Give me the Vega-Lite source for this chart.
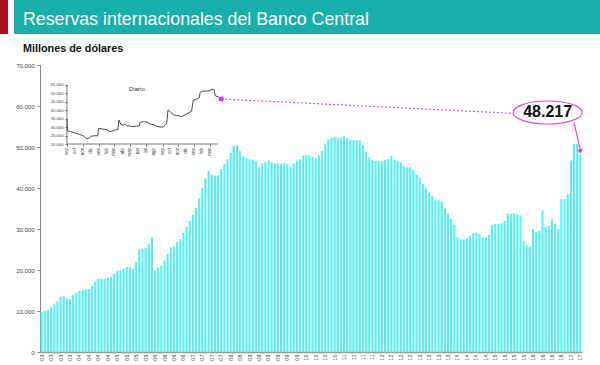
{
"$schema": "https://vega.github.io/schema/vega-lite/v6.json",
"padding": 0,
"background": "white",
"spacing": 9,
"config": {"font": "Liberation Sans", "view": {"stroke": null}, "axis": {"labelOverlap": false}},
"vconcat": [
{"hconcat": [
 {"width": 8, "height": 34, "view": {"fill": "#A50F1E", "stroke": null}, "data": {"values": [{}]}, "mark": "text", "encoding": {"text": {"value": ""}}},
 {"width": 586, "height": 34, "view": {"fill": "#1AAFAB", "stroke": null},
  "title": {"text": "Reservas internacionales del Banco Central", "anchor": "start", "frame": "group", "offset": -28.5, "dx": 9, "color": "white", "fontSize": 17.8, "fontWeight": "normal", "font": "Liberation Sans"},
  "data": {"values": [{}]}, "mark": "text", "encoding": {"text": {"value": ""}}}
], "spacing": 6},
{"width": 582, "height": 287,
 "title": {"text": "Millones de dólares", "anchor": "start", "frame": "group", "dx": 23, "offset": 8, "fontSize": 10.8, "fontWeight": "bold", "color": "#111", "font": "Liberation Sans"},
 "layer": [
  {"data": {"values": [
   {"d":"2015-09-01","v":34800},{"d":"2015-09-03","v":27800},{"d":"2015-09-15","v":27400},{"d":"2015-10-01","v":26600},{"d":"2015-10-15","v":25900},{"d":"2015-11-01","v":25000},{"d":"2015-11-17","v":23000},{"d":"2015-11-25","v":23600},{"d":"2015-12-04","v":24600},{"d":"2015-12-15","v":24900},{"d":"2015-12-28","v":24900},{"d":"2015-12-31","v":29300},{"d":"2016-01-15","v":28900},{"d":"2016-02-01","v":28500},{"d":"2016-02-12","v":27400},{"d":"2016-02-25","v":27800},{"d":"2016-03-09","v":28600},{"d":"2016-03-14","v":28300},{"d":"2016-03-18","v":34200},{"d":"2016-03-26","v":31500},{"d":"2016-04-05","v":31200},{"d":"2016-04-10","v":31900},{"d":"2016-04-16","v":30900},{"d":"2016-05-01","v":30600},{"d":"2016-05-12","v":30300},{"d":"2016-05-25","v":30700},{"d":"2016-06-04","v":30700},{"d":"2016-06-07","v":32900},{"d":"2016-06-20","v":33200},{"d":"2016-07-02","v":33000},{"d":"2016-07-15","v":31900},{"d":"2016-08-01","v":31300},{"d":"2016-08-10","v":30500},{"d":"2016-08-25","v":30000},{"d":"2016-09-04","v":30200},{"d":"2016-09-12","v":31400},{"d":"2016-09-17","v":31900},{"d":"2016-09-22","v":40200},{"d":"2016-10-01","v":39000},{"d":"2016-10-12","v":37400},{"d":"2016-10-25","v":36900},{"d":"2016-11-13","v":36300},{"d":"2016-11-26","v":37200},{"d":"2016-12-10","v":38500},{"d":"2016-12-21","v":39400},{"d":"2016-12-28","v":46100},{"d":"2017-01-10","v":46700},{"d":"2017-01-20","v":47500},{"d":"2017-01-23","v":50600},{"d":"2017-02-01","v":51400},{"d":"2017-02-15","v":51400},{"d":"2017-03-01","v":51600},{"d":"2017-03-10","v":52600},{"d":"2017-03-14","v":52000},{"d":"2017-03-17","v":52300},{"d":"2017-03-22","v":48600},{"d":"2017-04-03","v":48000},{"d":"2017-04-09","v":47300}
  ]},
  "layer": [
   {"mark": {"type": "line", "color": "#4a4a4a", "strokeWidth": 1},
    "encoding": {
     "x": {"field": "d", "type": "temporal",
      "scale": {"domain": [{"year":2015,"month":5,"date":21,"utc":true},{"year":2021,"month":1,"date":24,"utc":true}], "nice": false, "range": [40, 582]},
      "axis": {"orient": "bottom", "offset": -208, "title": null, "grid": false, "domain": false, "labels": false,
       "values": [{"year":2015,"month":9,"date":1,"utc":true},{"year":2015,"month":10,"date":1,"utc":true},{"year":2015,"month":11,"date":1,"utc":true},{"year":2015,"month":12,"date":1,"utc":true},{"year":2016,"month":1,"date":1,"utc":true},{"year":2016,"month":2,"date":1,"utc":true},{"year":2016,"month":3,"date":1,"utc":true},{"year":2016,"month":4,"date":1,"utc":true},{"year":2016,"month":5,"date":1,"utc":true},{"year":2016,"month":6,"date":1,"utc":true},{"year":2016,"month":7,"date":1,"utc":true},{"year":2016,"month":8,"date":1,"utc":true},{"year":2016,"month":9,"date":1,"utc":true},{"year":2016,"month":10,"date":1,"utc":true},{"year":2016,"month":11,"date":1,"utc":true},{"year":2016,"month":12,"date":1,"utc":true},{"year":2017,"month":1,"date":1,"utc":true},{"year":2017,"month":2,"date":1,"utc":true},{"year":2017,"month":3,"date":1,"utc":true}],
       "tickSize": 2, "tickColor": "#666"}},
     "y": {"field": "v", "type": "quantitative",
      "scale": {"domain": [-103386, 66864], "nice": false, "zero": false},
      "axis": {"orient": "left", "offset": -67, "title": null, "grid": false, "domain": false,
       "values": [20000,25000,30000,35000,40000,45000,50000,55000],
       "labelExpr": "replace(format(datum.value, ','), ',', '.')",
       "labelFontSize": 4.2, "labelColor": "#444", "labelPadding": 2, "tickSize": 2, "tickColor": "#666", "minExtent": 0, "labelOverlap": false, "labelBound": false, "labelFlush": false}}
    }},
   {"data": {"values": [
     {"d":"2015-09-01","mes":"sep"},{"d":"2015-10-01","mes":"oct"},{"d":"2015-11-01","mes":"nov"},{"d":"2015-12-01","mes":"dic"},{"d":"2016-01-01","mes":"ene"},{"d":"2016-02-01","mes":"feb"},{"d":"2016-03-01","mes":"mar"},{"d":"2016-04-01","mes":"abr"},{"d":"2016-05-01","mes":"may"},{"d":"2016-06-01","mes":"jun"},{"d":"2016-07-01","mes":"jul"},{"d":"2016-08-01","mes":"ago"},{"d":"2016-09-01","mes":"sep"},{"d":"2016-10-01","mes":"oct"},{"d":"2016-11-01","mes":"nov"},{"d":"2016-12-01","mes":"dic"},{"d":"2017-01-01","mes":"ene"},{"d":"2017-02-01","mes":"feb"},{"d":"2017-03-01","mes":"mar"}
    ]},
    "mark": {"type": "text", "fontSize": 4.5, "color": "#444", "angle": 270, "align": "right", "baseline": "middle", "yOffset": 4},
    "encoding": {"x": {"field": "d", "type": "temporal"}, "y": {"datum": 20000, "type": "quantitative"}, "text": {"field": "mes"}}},
   {"data": {"values": [{}]}, "mark": {"type": "rule", "color": "#555", "strokeWidth": 0.8},
    "encoding": {"x": {"datum": {"year":2015,"month":9,"date":1,"utc":true}, "type": "temporal"}, "y": {"datum": 20000, "type": "quantitative"}, "y2": {"datum": 55000}}},
   {"data": {"values": [{}]}, "mark": {"type": "rule", "color": "#555", "strokeWidth": 0.8},
    "encoding": {"x": {"datum": {"year":2015,"month":9,"date":1,"utc":true}, "type": "temporal"}, "x2": {"datum": {"year":2017,"month":4,"date":1,"utc":true}}, "y": {"datum": 20000, "type": "quantitative"}}},
   {"data": {"values": [{}]}, "mark": {"type": "text", "fontSize": 6, "color": "#333", "align": "center", "baseline": "middle"},
    "encoding": {"x": {"datum": {"year":2016,"month":5,"date":26,"utc":true}, "type": "temporal"}, "y": {"datum": 52600, "type": "quantitative"}, "text": {"value": "Diario"}}}
  ]},
  {"data": {"values": [
   {"m":"2003-01","v":9800},{"m":"2003-02","v":10000},{"m":"2003-03","v":10300},{"m":"2003-04","v":11000},{"m":"2003-05","v":11600},{"m":"2003-06","v":12300},{"m":"2003-07","v":13400},{"m":"2003-08","v":13600},{"m":"2003-09","v":13100},{"m":"2003-10","v":12900},{"m":"2003-11","v":13900},{"m":"2003-12","v":14500},
   {"m":"2004-01","v":14900},{"m":"2004-02","v":15100},{"m":"2004-03","v":15300},{"m":"2004-04","v":15400},{"m":"2004-05","v":16100},{"m":"2004-06","v":17200},{"m":"2004-07","v":17800},{"m":"2004-08","v":17800},{"m":"2004-09","v":17900},{"m":"2004-10","v":18100},{"m":"2004-11","v":18300},{"m":"2004-12","v":19100},
   {"m":"2005-01","v":19800},{"m":"2005-02","v":19900},{"m":"2005-03","v":20300},{"m":"2005-04","v":20700},{"m":"2005-05","v":20700},{"m":"2005-06","v":20300},{"m":"2005-07","v":21900},{"m":"2005-08","v":25000},{"m":"2005-09","v":25200},{"m":"2005-10","v":25400},{"m":"2005-11","v":26300},{"m":"2005-12","v":28000},
   {"m":"2006-01","v":19800},{"m":"2006-02","v":20600},{"m":"2006-03","v":21100},{"m":"2006-04","v":22300},{"m":"2006-05","v":23900},{"m":"2006-06","v":25500},{"m":"2006-07","v":25800},{"m":"2006-08","v":26800},{"m":"2006-09","v":27500},{"m":"2006-10","v":29000},{"m":"2006-11","v":30500},{"m":"2006-12","v":32000},
   {"m":"2007-01","v":33500},{"m":"2007-02","v":35200},{"m":"2007-03","v":37500},{"m":"2007-04","v":40000},{"m":"2007-05","v":42300},{"m":"2007-06","v":44200},{"m":"2007-07","v":43300},{"m":"2007-08","v":43000},{"m":"2007-09","v":43100},{"m":"2007-10","v":44600},{"m":"2007-11","v":45800},{"m":"2007-12","v":47000},
   {"m":"2008-01","v":48500},{"m":"2008-02","v":50300},{"m":"2008-03","v":50400},{"m":"2008-04","v":49000},{"m":"2008-05","v":47700},{"m":"2008-06","v":47300},{"m":"2008-07","v":47000},{"m":"2008-08","v":46900},{"m":"2008-09","v":46600},{"m":"2008-10","v":45000},{"m":"2008-11","v":46000},{"m":"2008-12","v":46400},
   {"m":"2009-01","v":46700},{"m":"2009-02","v":46300},{"m":"2009-03","v":46000},{"m":"2009-04","v":46000},{"m":"2009-05","v":45900},{"m":"2009-06","v":46100},{"m":"2009-07","v":45800},{"m":"2009-08","v":45000},{"m":"2009-09","v":46000},{"m":"2009-10","v":46700},{"m":"2009-11","v":47000},{"m":"2009-12","v":47900},
   {"m":"2010-01","v":48000},{"m":"2010-02","v":47900},{"m":"2010-03","v":47600},{"m":"2010-04","v":47200},{"m":"2010-05","v":48000},{"m":"2010-06","v":49000},{"m":"2010-07","v":50700},{"m":"2010-08","v":51800},{"m":"2010-09","v":52200},{"m":"2010-10","v":52400},{"m":"2010-11","v":52300},{"m":"2010-12","v":52300},
   {"m":"2011-01","v":52600},{"m":"2011-02","v":52200},{"m":"2011-03","v":51800},{"m":"2011-04","v":51600},{"m":"2011-05","v":51700},{"m":"2011-06","v":51600},{"m":"2011-07","v":50500},{"m":"2011-08","v":48800},{"m":"2011-09","v":47500},{"m":"2011-10","v":46800},{"m":"2011-11","v":46600},{"m":"2011-12","v":46600},
   {"m":"2012-01","v":46500},{"m":"2012-02","v":46800},{"m":"2012-03","v":47000},{"m":"2012-04","v":47800},{"m":"2012-05","v":46900},{"m":"2012-06","v":46600},{"m":"2012-07","v":46200},{"m":"2012-08","v":45200},{"m":"2012-09","v":45000},{"m":"2012-10","v":45100},{"m":"2012-11","v":44400},{"m":"2012-12","v":43200},
   {"m":"2013-01","v":42500},{"m":"2013-02","v":41000},{"m":"2013-03","v":40000},{"m":"2013-04","v":38900},{"m":"2013-05","v":38000},{"m":"2013-06","v":37000},{"m":"2013-07","v":37000},{"m":"2013-08","v":36700},{"m":"2013-09","v":35000},{"m":"2013-10","v":33800},{"m":"2013-11","v":32500},{"m":"2013-12","v":31000},
   {"m":"2014-01","v":28000},{"m":"2014-02","v":27500},{"m":"2014-03","v":27400},{"m":"2014-04","v":27800},{"m":"2014-05","v":28400},{"m":"2014-06","v":29000},{"m":"2014-07","v":29100},{"m":"2014-08","v":28800},{"m":"2014-09","v":28000},{"m":"2014-10","v":28000},{"m":"2014-11","v":28600},{"m":"2014-12","v":31000},
   {"m":"2015-01","v":31300},{"m":"2015-02","v":31200},{"m":"2015-03","v":31400},{"m":"2015-04","v":32000},{"m":"2015-05","v":33800},{"m":"2015-06","v":33700},{"m":"2015-07","v":33800},{"m":"2015-08","v":33600},{"m":"2015-09","v":33300},{"m":"2015-10","v":27000},{"m":"2015-11","v":26000},{"m":"2015-12","v":25600},
   {"m":"2016-01","v":30000},{"m":"2016-02","v":29300},{"m":"2016-03","v":29600},{"m":"2016-04","v":34500},{"m":"2016-05","v":30500},{"m":"2016-06","v":30800},{"m":"2016-07","v":32400},{"m":"2016-08","v":31200},{"m":"2016-09","v":30000},{"m":"2016-10","v":37300},{"m":"2016-11","v":37300},{"m":"2016-12","v":38500},
   {"m":"2017-01","v":46700},{"m":"2017-02","v":50700},{"m":"2017-03","v":50700},{"m":"2017-04","v":48217}
  ]},
  "layer": [
   {"mark": {"type": "bar", "color": "#55F0F0"},
    "encoding": {
     "x": {"field": "m", "type": "ordinal", "scale": {"paddingInner": 0.33, "paddingOuter": 0.2, "range": [40, 582]},
      "axis": {"orient": "bottom", "title": null, "labelAngle": -90, "labelFontSize": 5.5, "labelColor": "#444", "labelPadding": 2, "ticks": false, "domainColor": "#999", "domainWidth": 1.5, "labelOverlap": false, "labelBound": false,
       "labelExpr": "indexof(['01','04','07','10'], substring(datum.value,5,7)) >= 0 ? substring(datum.value,2,4) : ''"}},
     "y": {"field": "v", "type": "quantitative", "scale": {"domain": [0, 70000], "nice": false},
      "axis": {"orient": "left", "offset": -40, "title": null, "grid": false, "values": [0,10000,20000,30000,40000,50000,60000,70000],
       "labelExpr": "replace(format(datum.value, ','), ',', '.')",
       "labelFontSize": 6, "labelColor": "#444", "tickSize": 3, "tickColor": "#888", "domainColor": "#888", "labelPadding": 3, "minExtent": 0}}
    }},
   {"data": {"values": [{}]}, "mark": {"type": "rule", "color": "#E54FE5", "strokeWidth": 1.2, "strokeDash": [2, 2]},
    "encoding": {"x": {"datum": "2007-10", "type": "ordinal"}, "x2": {"datum": "2015-07"}, "y": {"datum": 61707, "type": "quantitative"}, "y2": {"datum": 58200}}},
   {"data": {"values": [{}]}, "mark": {"type": "point", "filled": true, "color": "#E030E0", "size": 25, "opacity": 1},
    "encoding": {"x": {"datum": "2007-10", "type": "ordinal"}, "y": {"datum": 61707, "type": "quantitative"}}},
   {"data": {"values": [{}]}, "mark": {"type": "rule", "color": "#E030E0", "strokeWidth": 1.1},
    "encoding": {"x": {"datum": "2017-02", "type": "ordinal"}, "x2": {"datum": "2017-04"}, "y": {"datum": 55976, "type": "quantitative"}, "y2": {"datum": 49300}}},
   {"data": {"values": [{}]}, "mark": {"type": "point", "shape": "triangle-down", "filled": true, "color": "#E030E0", "size": 30, "angle": 349, "opacity": 1},
    "encoding": {"x": {"datum": "2017-04", "type": "ordinal"}, "y": {"datum": 48900, "type": "quantitative"}}},
   {"data": {"values": [{}]}, "mark": {"type": "point", "shape": "M-1,0A1,0.333,0,1,0,1,0A1,0.333,0,1,0,-1,0Z", "size": 4761, "filled": true, "fill": "white", "fillOpacity": 1, "stroke": "#D94FD9", "strokeOpacity": 1, "strokeWidth": 1.2, "xOffset": 2},
    "encoding": {"x": {"datum": "2016-05", "type": "ordinal"}, "y": {"datum": 58415, "type": "quantitative"}}},
   {"data": {"values": [{}]}, "mark": {"type": "text", "fontSize": 16, "fontWeight": "bold", "color": "#111", "align": "center", "baseline": "middle", "xOffset": 2, "font": "Liberation Sans"},
    "encoding": {"x": {"datum": "2016-05", "type": "ordinal"}, "y": {"datum": 58415, "type": "quantitative"}, "text": {"value": "48.217"}}}
  ]}
 ],
 "resolve": {"scale": {"x": "independent", "y": "independent"}, "axis": {"x": "independent", "y": "independent"}}
}
]
}
